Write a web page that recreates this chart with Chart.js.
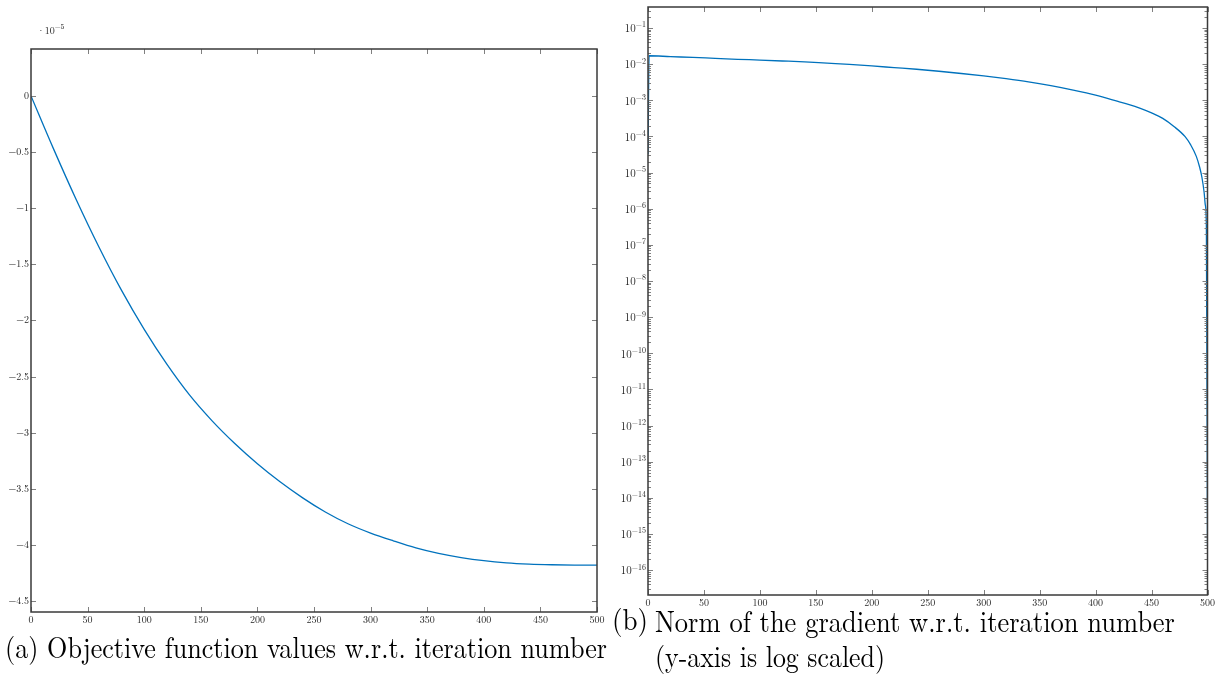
<!DOCTYPE html>
<html><head><meta charset="utf-8">
<script src="https://cdn.jsdelivr.net/npm/chart.js@4.4.0/dist/chart.umd.min.js"></script>
<style>
html,body{margin:0;padding:0;background:#fff;width:1217px;height:689px;overflow:hidden;position:relative;}
canvas{position:absolute;top:0;}
#c1{left:0;}
#c2{left:610px;}
.cap{position:absolute;font-family:'Latin Modern Roman','CMU Serif','Liberation Serif',serif;color:#000;white-space:nowrap;font-size:30px;line-height:30px;height:30px;transform-origin:0 0;}
#mult{position:absolute;left:37px;top:22px;font-family:'Latin Modern Roman','CMU Serif','Liberation Serif',serif;font-size:10px;color:#222;white-space:nowrap;}
#mult sup{font-size:7.5px;position:relative;top:-1px;}
</style></head><body>
<canvas id="c1" width="620" height="640"></canvas>
<canvas id="c2" width="607" height="640"></canvas>
<div id="mult">·10<sup>−5</sup></div>
<div class="cap" data-w="602" style="left:5px;top:631px;">(a) Objective function values w.r.t. iteration number</div>
<div class="cap" data-w="36" style="left:612px;top:603px;">(b)</div>
<div class="cap" data-w="520" style="left:655px;top:605px;">Norm of the gradient w.r.t. iteration number</div>
<div class="cap" data-w="230" style="left:655px;top:640px;">(y-axis is log scaled)</div>
<script>
// ---- data (a): objective function values (x 10^-5) ----
const iterA = [0,20,40,60,80,100,120,140,160,180,200,220,240,260,280,300,320,340,360,380,400,420,440,460,480,500];
const objA  = [0,-0.474,-0.925,-1.346,-1.733,-2.080,-2.390,-2.664,-2.895,-3.097,-3.277,-3.438,-3.581,-3.707,-3.812,-3.895,-3.964,-4.027,-4.076,-4.113,-4.141,-4.160,-4.171,-4.177,-4.180,-4.181];
const xTicksA = [0,50,100,150,200,250,300,350,400,450,500];
const yTicksA = [0,-0.5,-1,-1.5,-2,-2.5,-3,-3.5,-4,-4.5];

// ---- data (b): gradient norm (log scale) ----
const iterB = [0,1,20,40,60,80,100,120,140,160,180,200,220,240,260,280,300,320,340,360,380,400,420,430,440,450,460,470,480,485,490,493,495,497,498,499,500];
const gradB = [3.2e-5,1.70e-2,1.61e-2,1.53e-2,1.44e-2,1.36e-2,1.29e-2,1.22e-2,1.15e-2,1.06e-2,9.8e-3,8.9e-3,8.0e-3,7.2e-3,6.35e-3,5.5e-3,4.7e-3,3.94e-3,3.22e-3,2.52e-3,1.90e-3,1.38e-3,9.3e-4,7.6e-4,5.96e-4,4.47e-4,3.14e-4,1.88e-4,9.8e-5,5.8e-5,2.8e-5,1.4e-5,7.4e-6,2.8e-6,1.3e-6,3e-7,4.7e-16];
const xTicksB = [0,50,100,150,200,250,300,350,400,450,500];
const yExpB = [-1,-2,-3,-4,-5,-6,-7,-8,-9,-10,-11,-12,-13,-14,-15,-16];

const LINE = '#0072BD';
const FAM = "'Latin Modern Roman','CMU Serif','Liberation Serif', serif";
const TICKFONT = {family:FAM, size:10};
const minus = s => String(s).replace('-', '\u2212');

const frameTicks = {
  id:'frameTicks',
  afterDraw(chart, args, opts){
    const {ctx, chartArea:a, scales} = chart;
    const xs = scales.x, ys = scales.y;
    ctx.save();
    ctx.strokeStyle = '#808080'; ctx.lineWidth = 1;
    const L = 5, l = 3;
    ctx.beginPath();
    xs.ticks.forEach(t=>{
      const px = Math.round(xs.getPixelForValue(t.value))+0.5;
      ctx.moveTo(px,a.bottom); ctx.lineTo(px,a.bottom-L);
      ctx.moveTo(px,a.top); ctx.lineTo(px,a.top+L);
    });
    ys.ticks.forEach(t=>{
      const py = Math.round(ys.getPixelForValue(t.value))+0.5;
      ctx.moveTo(a.left,py); ctx.lineTo(a.left+L,py);
      ctx.moveTo(a.right,py); ctx.lineTo(a.right-L,py);
    });
    if (opts.minorLog){
      for (let e=-18; e<=0; e++){
        for (let m=2; m<=9; m++){
          const v = m*Math.pow(10,e);
          if (v < ys.min || v > ys.max) continue;
          const py = Math.round(ys.getPixelForValue(v))+0.5;
          ctx.moveTo(a.left,py); ctx.lineTo(a.left+l,py);
          ctx.moveTo(a.right,py); ctx.lineTo(a.right-l,py);
        }
      }
    }
    ctx.stroke();
    ctx.strokeStyle = '#3a3a3a'; ctx.lineWidth = 1.5;
    ctx.strokeRect(a.left, a.top, a.right-a.left, a.bottom-a.top);
    if (opts.logLabels){
      ctx.fillStyle = '#222';
      ys.ticks.forEach(t=>{
        const e = Math.round(Math.log10(t.value));
        const py = ys.getPixelForValue(t.value);
        const ex = minus(e);
        ctx.font = "8px " + FAM;
        const ew = ctx.measureText(ex).width;
        ctx.font = "11px " + FAM;
        const bw = ctx.measureText('10').width;
        const xr = a.left - 2;
        ctx.textBaseline = 'middle'; ctx.textAlign = 'left';
        ctx.fillText('10', xr-ew-bw, py+1);
        ctx.font = "8px " + FAM;
        ctx.fillText(ex, xr-ew, py-3);
      });
    }
    ctx.restore();
  }
};

new Chart(document.getElementById('c1'), {
  type:'line',
  data:{datasets:[{data: iterA.map((x,i)=>({x, y: objA[i]})), borderColor:LINE, borderWidth:1.3, pointRadius:0, fill:false, cubicInterpolationMode:'monotone'}]},
  options:{
    responsive:false, animation:false, devicePixelRatio:1,
    layout:{padding:{left:0, top:49, right:23, bottom:12}},
    plugins:{legend:{display:false}, tooltip:{enabled:false}, frameTicks:{}},
    scales:{
      x:{type:'linear', min:0, max:500,
         afterBuildTicks: s=>{ s.ticks = xTicksA.map(v=>({value:v})); },
         grid:{display:false, drawTicks:false}, border:{display:false},
         ticks:{font:TICKFONT, color:'#222', padding:2, maxRotation:0, autoSkip:false},
         afterFit: s=>{ s.height = 16; }},
      y:{type:'linear', min:-4.598, max:0.418,
         afterBuildTicks: s=>{ s.ticks = yTicksA.map(v=>({value:v})); },
         grid:{display:false, drawTicks:false}, border:{display:false},
         ticks:{font:TICKFONT, color:'#222', padding:2, autoSkip:false, callback:v=>minus(v)},
         afterFit: s=>{ s.width = 31; }}
    }
  },
  plugins:[frameTicks]
});

new Chart(document.getElementById('c2'), {
  type:'line',
  data:{datasets:[{data: iterB.map((x,i)=>({x, y: gradB[i]})), borderColor:LINE, borderWidth:1.3, pointRadius:0, fill:false, cubicInterpolationMode:'monotone'}]},
  options:{
    responsive:false, animation:false, devicePixelRatio:1,
    layout:{padding:{left:0, top:7, right:8, bottom:29}},
    plugins:{legend:{display:false}, tooltip:{enabled:false}, frameTicks:{minorLog:true, logLabels:true}},
    scales:{
      x:{type:'linear', min:0, max:500,
         afterBuildTicks: s=>{ s.ticks = xTicksB.map(v=>({value:v})); },
         grid:{display:false, drawTicks:false}, border:{display:false},
         ticks:{font:TICKFONT, color:'#222', padding:2, maxRotation:0, autoSkip:false},
         afterFit: s=>{ s.height = 16; }},
      y:{type:'logarithmic', min:Math.pow(10,-16.69), max:Math.pow(10,-0.42),
         afterBuildTicks: s=>{ s.ticks = yExpB.map(e=>({value:Math.pow(10,e)})); },
         grid:{display:false, drawTicks:false}, border:{display:false},
         ticks:{display:false},
         afterFit: s=>{ s.width = 38; }}
    }
  },
  plugins:[frameTicks]
});

// fit caption lines to measured widths
document.querySelectorAll('.cap').forEach(el=>{
  const w = el.getBoundingClientRect().width;
  const target = +el.dataset.w;
  el.style.transform = 'scaleX(' + (target/w) + ')';
});
</script>
</body></html>
